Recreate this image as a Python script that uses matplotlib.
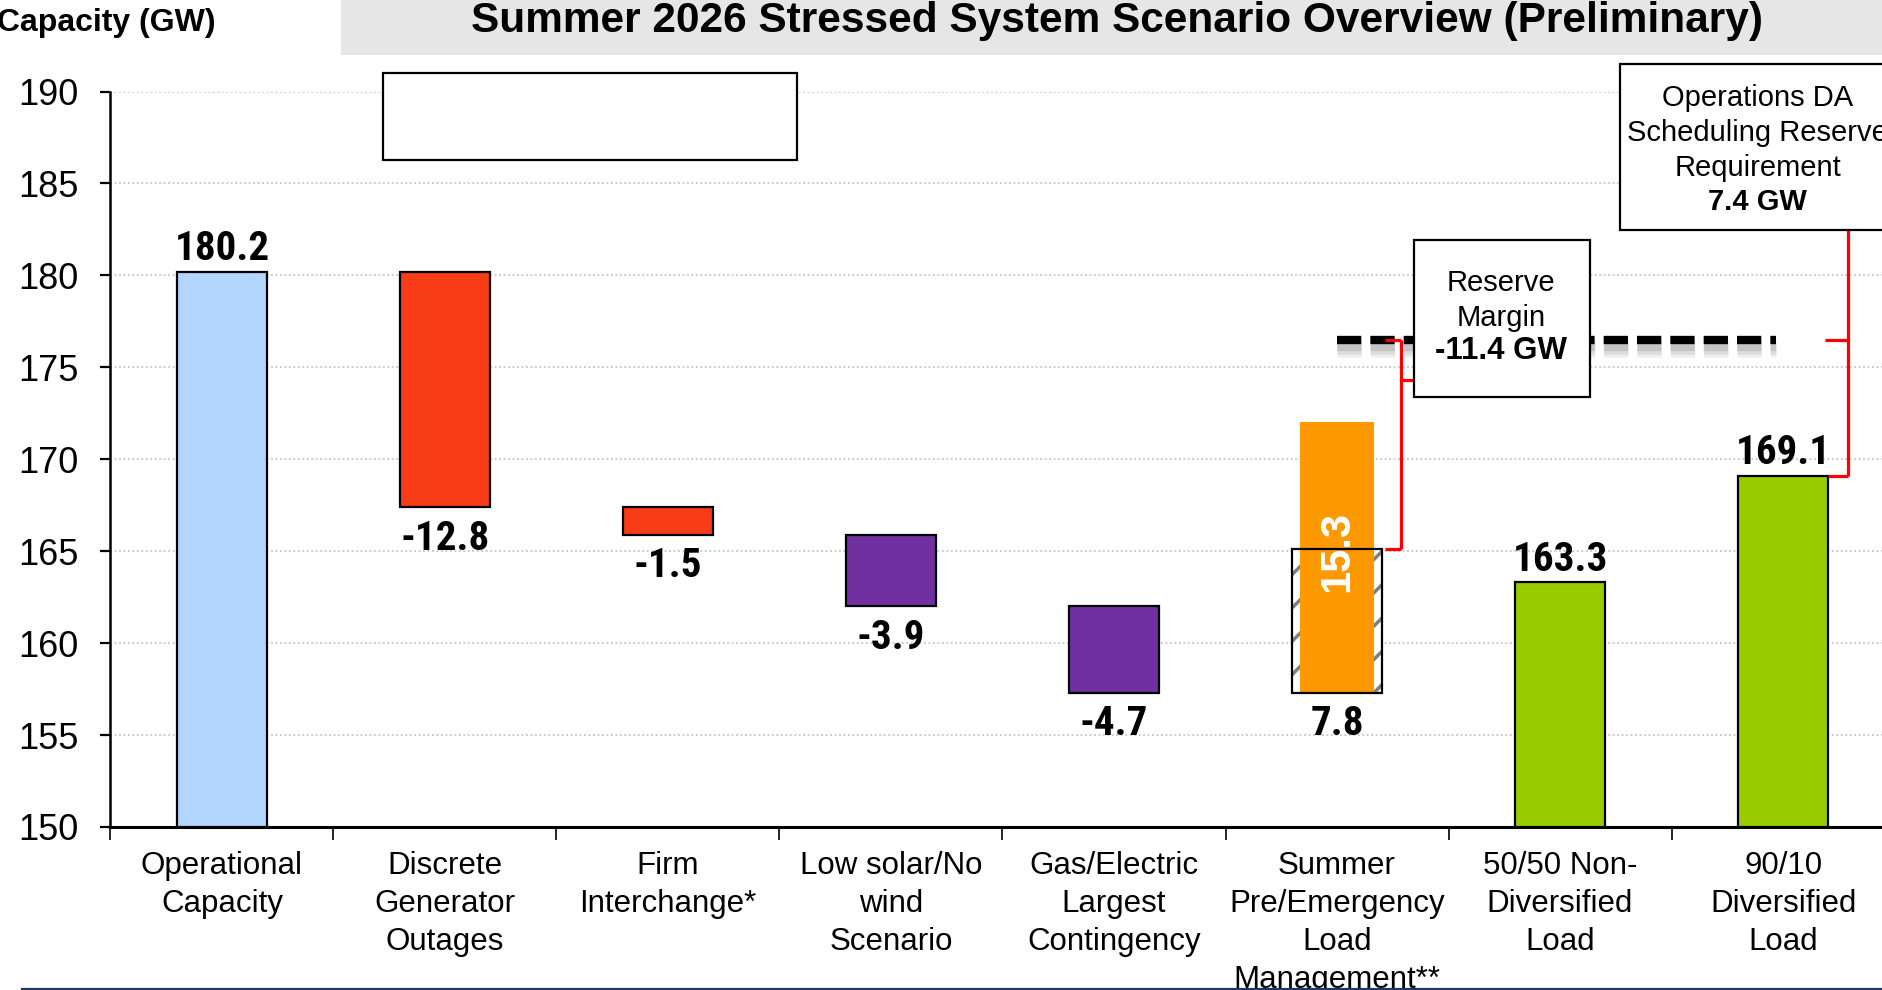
import numpy as np
import matplotlib
matplotlib.use("Agg")
import matplotlib.pyplot as plt
from matplotlib import font_manager
from matplotlib.patches import Rectangle

# ---------------- data ----------------
categories = ["Operational\nCapacity", "Discrete\nGenerator\nOutages",
              "Firm\nInterchange*", "Low solar/No\nwind\nScenario",
              "Gas/Electric\nLargest\nContingency",
              "Summer\nPre/Emergency\nLoad\nManagement**",
              "50/50 Non-\nDiversified\nLoad", "90/10\nDiversified\nLoad"]
operational_capacity = 180.2
reductions = [-12.8, -1.5, -3.9, -4.7]
reduction_colors = ["#F73C17", "#F73C17", "#7030A0", "#7030A0"]
load_mgmt_hatched = 7.8
load_mgmt_label = 15.3
load_mgmt_orange_top = 172.0
loads = [163.3, 169.1]
reserve_line = 176.5
reserve_margin_text = "-11.4 GW"
ops_reserve_text = "7.4 GW"
yticks = [150, 155, 160, 165, 170, 175, 180, 185, 190]

# ---------------- fonts ----------------
def has_font(name):
    try:
        path = font_manager.findfont(font_manager.FontProperties(family=name),
                                     fallback_to_default=False)
        return path is not None
    except Exception:
        return False

REG = "Liberation Sans" if has_font("Liberation Sans") else "DejaVu Sans"
NARROW, value_size = REG, 26
for cand in ["Liberation Sans Narrow", "Arial Narrow", "Roboto Condensed",
             "Open Sans Condensed", "DejaVu Sans Condensed"]:
    if has_font(cand):
        NARROW, value_size = cand, 29.5
        break
plt.rcParams["font.family"] = [REG, "DejaVu Sans"]
plt.rcParams["hatch.linewidth"] = 2.5

W, H = 1882, 990
fig = plt.figure(figsize=(W / 100, H / 100), dpi=100)
ax_left, ax_right = 110.4, 1894.6
ax_top, ax_bot = 91.5, 827.0
ax = fig.add_axes([ax_left / W, 1 - ax_bot / H, (ax_right - ax_left) / W,
                   (ax_bot - ax_top) / H])
ax.set_xlim(-0.5, len(categories) - 0.5)
ax.set_ylim(150, 190)

# gridlines
for y in yticks[1:]:
    ax.axhline(y, color="#cccccc", lw=1.4, ls=(0, (1, 1.3)), zorder=0)

bw = 0.4
edge = dict(edgecolor="black", linewidth=1.6)
vfont = dict(fontfamily=NARROW, fontweight="bold", fontsize=value_size)
above, below = 2.5, -9
# operational capacity
ax.bar(0, operational_capacity - 150, bw, bottom=150, color="#B3D6FF", zorder=3, **edge)
ax.annotate(f"{operational_capacity:.1f}", (0, operational_capacity), xytext=(0, above),
            textcoords="offset points", ha="center", va="bottom", **vfont)

level = operational_capacity
for i, (r, c) in enumerate(zip(reductions, reduction_colors), start=1):
    bottom = level + r
    ax.bar(i, -r, bw, bottom=bottom, color=c, zorder=3, **edge)
    ax.annotate(f"{r:.1f}", (i, bottom), xytext=(0, below),
                textcoords="offset points", ha="center", va="top", **vfont)
    level = bottom

# load management (hatched + orange)
xi = 5
ax.bar(xi, load_mgmt_hatched, bw, bottom=level, color="white", edgecolor="#808080",
       hatch="/", linewidth=0, zorder=3)
ax.bar(xi, load_mgmt_hatched, bw, bottom=level, fill=False, edgecolor="black",
       linewidth=1.6, zorder=5)
ax.bar(xi, load_mgmt_orange_top - level, 0.33, bottom=level, color="#FF9900",
       linewidth=0, zorder=4)
ax.text(xi, 165.0, f"{load_mgmt_label:.1f}", rotation=90, ha="center", va="center",
        color="white", fontweight="bold", fontsize=30, zorder=6)
ax.annotate(f"{load_mgmt_hatched:.1f}", (xi, level), xytext=(0, below),
            textcoords="offset points", ha="center", va="top", **vfont)
hatched_top = level + load_mgmt_hatched

# loads
for j, v in enumerate(loads, start=6):
    ax.bar(j, v - 150, bw, bottom=150, color="#99CC00", zorder=3, **edge)
    ax.annotate(f"{v:.1f}", (j, v), xytext=(0, above), textcoords="offset points",
                ha="center", va="bottom", **vfont)

# reserve dashed line with blurred shadow
on, off = 17.5, 6.5
for dy, lw, a in [(-0.5, 12, 0.10), (-0.45, 9, 0.15), (-0.42, 6, 0.22)]:
    ax.plot([5.0, 6.97], [reserve_line + dy] * 2, color="#707070", lw=lw, alpha=a,
            dashes=(on / lw, off / lw), dash_capstyle="butt", zorder=6)
ax.plot([5.0, 6.97], [reserve_line] * 2, color="black", lw=6,
        dashes=(on / 6, off / 6), dash_capstyle="butt", zorder=7)

# red brackets
red = dict(color="#FF0000", lw=2.3, zorder=8, solid_capstyle="butt")
bx = 5.287
ax.plot([bx, bx], [hatched_top, reserve_line], **red)
ax.plot([5.215, bx], [reserve_line, reserve_line], **red)
ax.plot([5.215, bx], [hatched_top, hatched_top], **red)
ax.plot([bx, 5.345], [174.3, 174.3], **red)
rx = 7.289
ax.plot([rx, rx], [loads[1], 182.45], clip_on=False, **red)
ax.plot([7.2, rx], [loads[1], loads[1]], **red)
ax.plot([7.19, rx], [reserve_line, reserve_line], **red)

# boxes
def box(x0, x1, y0, y1):
    ax.add_patch(Rectangle((x0, y0), x1 - x0, y1 - y0, facecolor="white",
                           edgecolor="black", lw=1.6, zorder=9, clip_on=False))

box(5.345, 6.134, 173.4, 181.9)
ax.text(5.735, 179.58, "Reserve", ha="center", va="center", fontsize=21, zorder=10)
ax.text(5.735, 177.68, "Margin", ha="center", va="center", fontsize=21, zorder=10)
ax.text(5.735, 175.86, reserve_margin_text, ha="center", va="center",
        fontsize=22.5, fontweight="bold", zorder=10)

box(6.269, 7.6, 182.45, 191.52)
for yy, t, fw in [(189.63, "Operations DA", "normal"),
                  (187.73, "Scheduling Reserve", "normal"),
                  (185.84, "Requirement", "normal"),
                  (184.01, ops_reserve_text, "bold")]:
    ax.text(6.887, yy, t, ha="center", va="center", fontsize=21, fontweight=fw,
            zorder=10, clip_on=False)

box(0.721, 2.578, 186.3, 191.0)

# axes styling
for s in ["top", "right"]:
    ax.spines[s].set_visible(False)
ax.spines["left"].set_linewidth(1.8)
ax.spines["bottom"].set_linewidth(2.2)
ax.set_yticks(yticks)
ax.set_yticklabels([str(t) for t in yticks], fontsize=26)
ax.tick_params(axis="y", direction="out", length=7, width=1.6, pad=16)
ax.set_xticks(np.arange(len(categories) + 1) - 0.5)
ax.set_xticklabels([""] * (len(categories) + 1))
ax.tick_params(axis="x", which="major", direction="out", length=9, width=1.2)
ax.set_xticks(np.arange(len(categories)), minor=True)
ax.set_xticklabels(categories, minor=True, fontsize=22.5, linespacing=1.36)
ax.tick_params(axis="x", which="minor", length=0, pad=17)

# title band
fig.patches.append(Rectangle((341 / W, 1 - 55 / H), 1 - 341 / W, 55 / H,
                             transform=fig.transFigure, facecolor="#E6E6E6",
                             edgecolor="none", zorder=0))
fig.text(1117 / W, 1 - 32.4 / H,
         "Summer 2026 Stressed System Scenario Overview (Preliminary)",
         ha="center", va="baseline", fontsize=30.5, fontweight="bold")
fig.text(-3 / W, 1 - 31 / H, "Capacity (GW)", ha="left", va="baseline",
         fontsize=23, fontweight="bold")
# bottom rule
fig.add_artist(plt.Line2D([22 / W, 1], [1 - 988.5 / H] * 2, color="#1F3864",
                          lw=1.6, transform=fig.transFigure))

fig.savefig("out.png", dpi=100)
